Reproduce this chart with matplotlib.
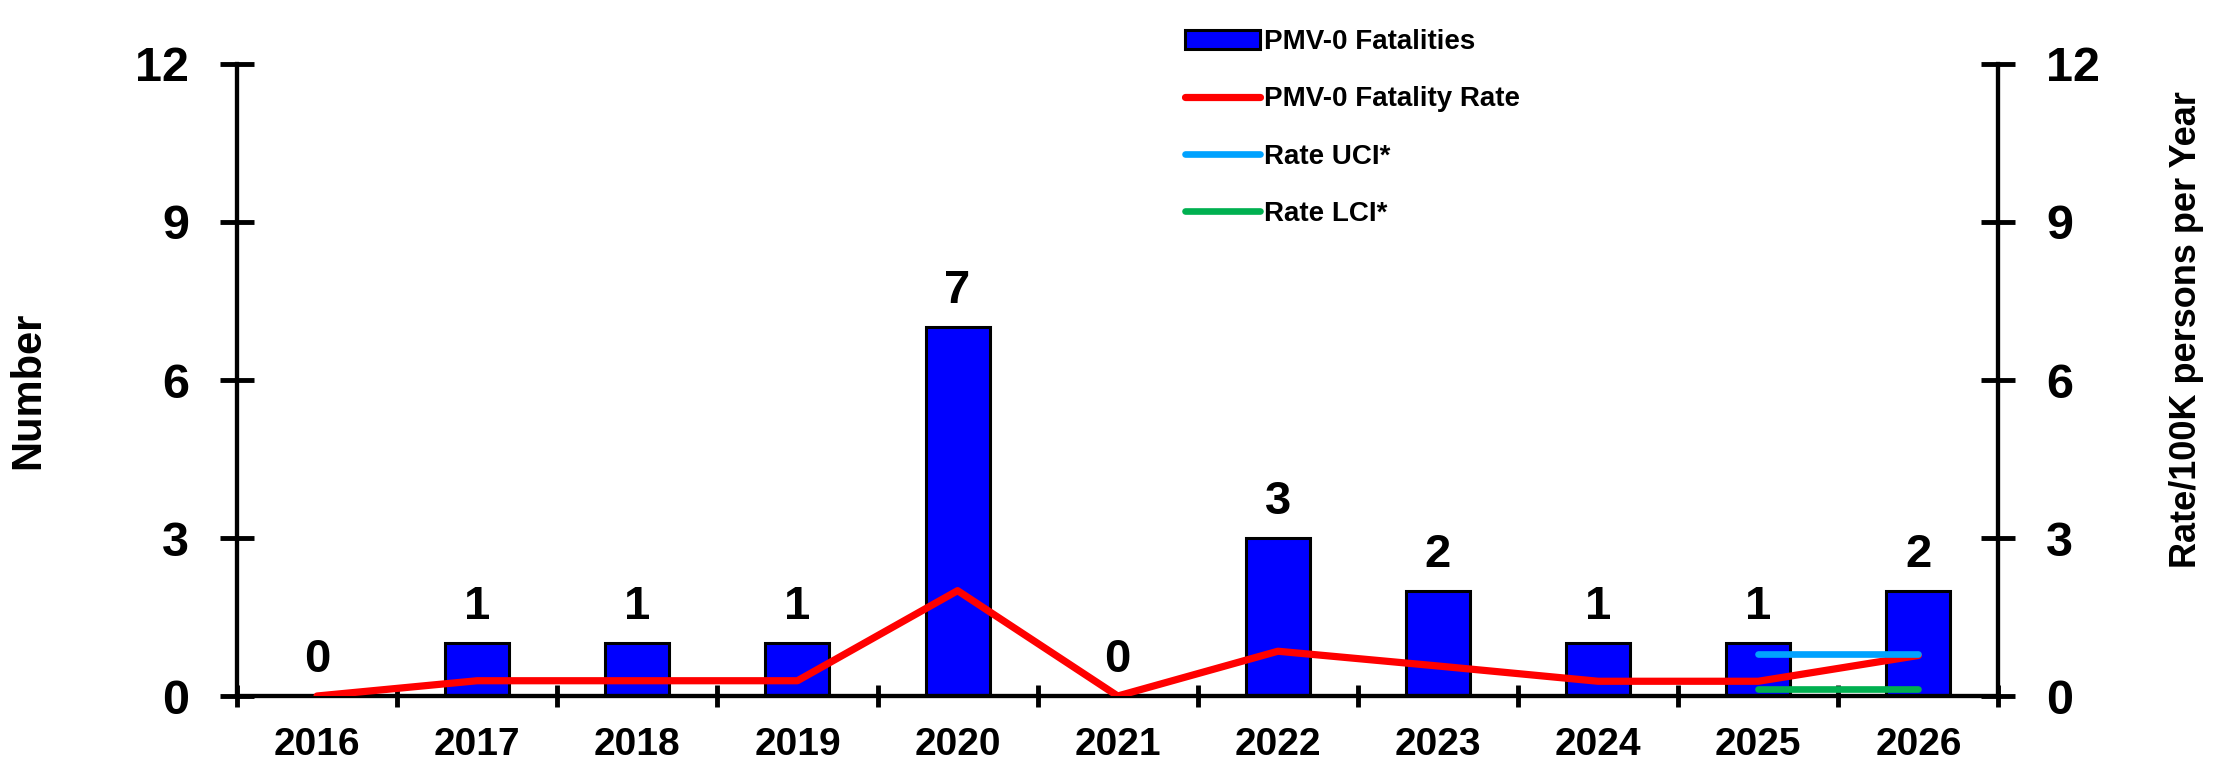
import numpy as np
from matplotlib import pyplot as plt

plt.rcParams.update({"font.family": "Liberation Sans",
                     "font.weight": "bold",
                     "axes.linewidth": 3.0})

years = ['2016', '2017', '2018', '2019', '2020', '2021', '2022', '2023', '2024', '2025', '2026']
fatalities = [0, 1, 1, 1, 7, 0, 3, 2, 1, 1, 2]
fatality_rate = [0.0, 0.29, 0.29, 0.29, 2.0, 0.0, 0.85, 0.57, 0.28, 0.28, 0.77]
uci_years = ['2025', '2026']
rate_uci = [0.8, 0.8]
rate_lci = [0.13, 0.13]

x = np.arange(len(years))
x_ci = [years.index(y) for y in uci_years]

fig, ax = plt.subplots(figsize=(22.23, 7.6), dpi=100)
fig.subplots_adjust(left=0.1066, right=0.899, bottom=0.0842, top=0.9158)
ax2 = ax.twinx()

bars = ax.bar(x, fatalities, width=0.4, color='#0000FF', edgecolor='black',
              linewidth=2.2, label='PMV-0 Fatalities', zorder=2)
for xi, v in zip(x, fatalities):
    ax.annotate(str(v), (xi, v), xytext=(0, 26), textcoords='offset points',
                ha='center', va='center', fontsize=34, fontweight='bold')

ax2.plot(x, fatality_rate, color='#FF0000', lw=5.2, solid_capstyle='round',
         solid_joinstyle='round', label='PMV-0 Fatality Rate', zorder=3)
ax2.plot(x_ci, rate_uci, color='#00A2FF', lw=4.8, solid_capstyle='round',
         label='Rate UCI*', zorder=3)
ax2.plot(x_ci, rate_lci, color='#00B050', lw=4.8, solid_capstyle='round',
         label='Rate LCI*', zorder=3)

for a in (ax, ax2):
    a.set_ylim(0, 12)
    a.set_yticks([0, 3, 6, 9, 12])
    a.spines['top'].set_visible(False)
    a.tick_params(axis='y', direction='inout', length=25, width=3.5, pad=22, labelsize=35)
ax.set_xlim(-0.5, len(years) - 0.5)
ax.set_xticks(x)
ax.set_xticklabels(years)
ax.set_xticks(np.arange(-0.5, len(years)), minor=True)
ax.tick_params(axis='x', which='major', length=0, pad=22, labelsize=28)
ax.tick_params(axis='x', which='minor', direction='inout', length=16, width=3.5)

ax.set_ylabel('Number', fontsize=30, fontweight='bold')
ax.yaxis.set_label_coords(-0.107, 0.483)
ax2.set_ylabel('Rate/100K persons per Year', fontsize=26, fontweight='bold')
ax2.yaxis.set_label_coords(1.097, 0.58)

ax2.set_zorder(ax.get_zorder() + 1)
ax2.patch.set_visible(False)

h1, l1 = ax.get_legend_handles_labels()
h2, l2 = ax2.get_legend_handles_labels()
leg = ax2.legend(h1 + h2, l1 + l2, loc='upper left', bbox_to_anchor=(0.524, 1.095),
                 frameon=False, handlelength=2.7, labelspacing=1.13,
                 handletextpad=0.15, prop={'weight': 'bold', 'size': 20})

fig.savefig('out.png', dpi=100)
